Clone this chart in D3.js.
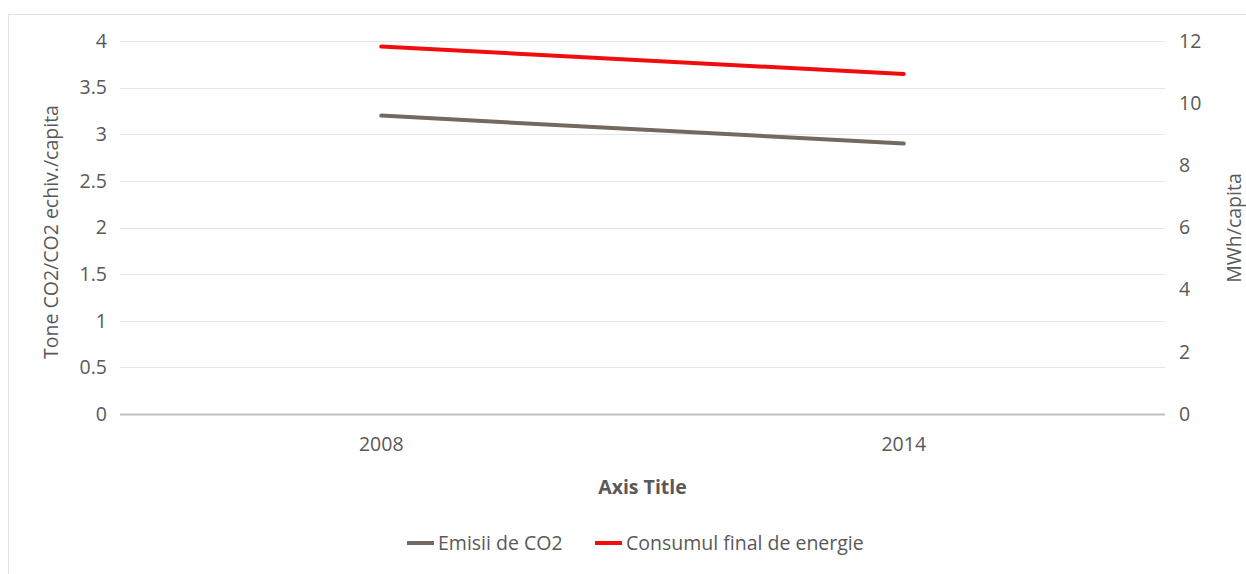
<!DOCTYPE html>
<html>
<head>
<meta charset="utf-8">
<script src="https://cdn.jsdelivr.net/npm/d3@7"></script>
<style>
	body { margin: 0; background: #fff; }
	svg text { font-family: 'Open Sans', sans-serif; fill: #595959; }
</style>
</head>
<body>
<div id="chart"></div>
<script>
const years = ['2008', '2014']
const emisii = [3.2, 2.9]
const consum = [11.82, 10.94]
const leftTicks = [0, 0.5, 1, 1.5, 2, 2.5, 3, 3.5, 4]
const rightTicks = [0, 2, 4, 6, 8, 10, 12]

const width = 1246
const height = 574
const margin = { top: 41, right: 81, bottom: 160, left: 120 }
const fontSize = '19.5px'

const svg = d3
	.select('#chart')
	.append('svg')
	.attr('width', width)
	.attr('height', height)

// chart area border
svg
	.append('rect')
	.attr('x', 8.5)
	.attr('y', 14.5)
	.attr('width', width)
	.attr('height', height)
	.attr('fill', 'none')
	.attr('stroke', '#e3e3e3')

const x = d3
	.scaleBand()
	.domain(years)
	.range([margin.left, width - margin.right])

const yLeft = d3
	.scaleLinear()
	.domain([0, 4])
	.range([height - margin.bottom, margin.top])

const yRight = d3
	.scaleLinear()
	.domain([0, 12])
	.range([height - margin.bottom, margin.top])

// gridlines
svg
	.append('g')
	.selectAll('line')
	.data(leftTicks)
	.enter()
	.append('line')
	.attr('x1', margin.left)
	.attr('x2', width - margin.right)
	.attr('y1', d => Math.round(yLeft(d)) + 0.5)
	.attr('y2', d => Math.round(yLeft(d)) + 0.5)
	.attr('stroke', d => (d === 0 ? '#bfbfbf' : '#e5e5e5'))
	.attr('stroke-width', d => (d === 0 ? 2 : 1))

// left axis
const leftAxis = svg
	.append('g')
	.attr('transform', `translate(${margin.left - 13}, 0)`)
	.call(
		d3
			.axisLeft(yLeft)
			.tickValues(leftTicks)
			.tickFormat(d3.format('~g'))
			.tickSize(0)
			.tickPadding(0)
	)
leftAxis.select('.domain').remove()
leftAxis.selectAll('text').style('font-size', fontSize).attr('fill', '#595959')

// right axis
const rightAxis = svg
	.append('g')
	.attr('transform', `translate(${width - margin.right + 14}, 0)`)
	.call(d3.axisRight(yRight).tickValues(rightTicks).tickSize(0).tickPadding(0))
rightAxis.select('.domain').remove()
rightAxis.selectAll('text').style('font-size', fontSize).attr('fill', '#595959')

// bottom axis
const bottomAxis = svg
	.append('g')
	.attr('transform', `translate(0, ${height - margin.bottom + 23})`)
	.call(d3.axisBottom(x).tickSize(0).tickPadding(0))
bottomAxis.select('.domain').remove()
bottomAxis.selectAll('text').style('font-size', fontSize).attr('fill', '#595959')

// axis titles
svg
	.append('text')
	.attr('transform', `translate(58, 232) rotate(-90)`)
	.attr('text-anchor', 'middle')
	.style('font-size', fontSize)
	.text('Tone CO2/CO2 echiv./capita')

svg
	.append('text')
	.attr('transform', `translate(1241, 228) rotate(-90)`)
	.attr('text-anchor', 'middle')
	.style('font-size', fontSize)
	.text('MWh/capita')

svg
	.append('text')
	.attr('x', (margin.left + width - margin.right) / 2)
	.attr('y', 494)
	.attr('text-anchor', 'middle')
	.style('font-size', fontSize)
	.style('font-weight', 'bold')
	.text('Axis Title')

// lines
const cx = d => x(d) + x.bandwidth() / 2

const lineLeft = d3
	.line()
	.x((d, i) => cx(years[i]))
	.y(d => yLeft(d))

const lineRight = d3
	.line()
	.x((d, i) => cx(years[i]))
	.y(d => yRight(d))

svg
	.append('path')
	.datum(emisii)
	.attr('d', lineLeft)
	.attr('fill', 'none')
	.attr('stroke', '#736a5f')
	.attr('stroke-width', 4)
	.attr('stroke-linecap', 'round')

svg
	.append('path')
	.datum(consum)
	.attr('d', lineRight)
	.attr('fill', 'none')
	.attr('stroke', '#f00d0d')
	.attr('stroke-width', 4)
	.attr('stroke-linecap', 'round')

// legend
const legendItems = [
	{ label: 'Emisii de CO2', color: '#736a5f', x: 407 },
	{ label: 'Consumul final de energie', color: '#f00d0d', x: 595 }
]

const legend = svg
	.append('g')
	.selectAll('g')
	.data(legendItems)
	.enter()
	.append('g')
	.attr('transform', d => `translate(${d.x}, 543)`)

legend
	.append('line')
	.attr('x1', 0)
	.attr('x2', 27)
	.attr('stroke', d => d.color)
	.attr('stroke-width', 4)

legend
	.append('text')
	.attr('x', 31)
	.attr('dy', '0.35em')
	.style('font-size', fontSize)
	.text(d => d.label)
</script>
</body>
</html>
